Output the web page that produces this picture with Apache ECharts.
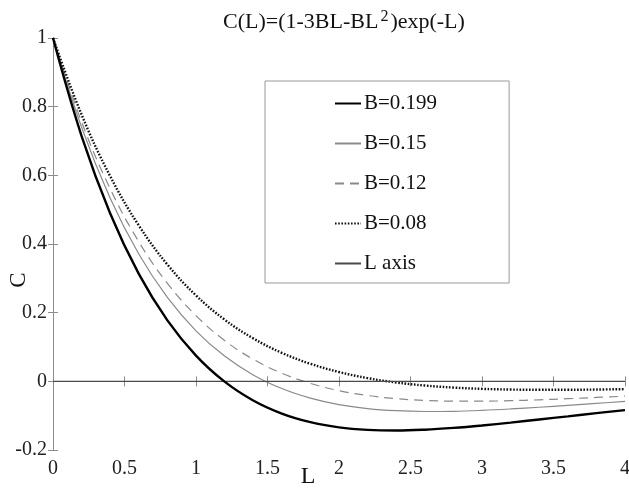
<!DOCTYPE html>
<html>
<head>
<meta charset="utf-8">
<script src="https://cdn.jsdelivr.net/npm/echarts@6/dist/echarts.min.js"></script>
<style>
  html, body { margin: 0; padding: 0; background: #fff; }
  #chart { width: 629px; height: 488px; }
</style>
</head>
<body>
<div id="chart"></div>
<script>
// C(L) every 0.2 in L
const lValues = [0, 0.2, 0.4, 0.6, 0.8, 1.0, 1.2, 1.4, 1.6, 1.8, 2.0, 2.2, 2.4, 2.6, 2.8, 3.0, 3.2, 3.4, 3.6, 3.8, 4.0];
const c199 = [1, 0.7145, 0.4889, 0.3129, 0.1775, 0.0750, -0.0009, -0.0557, -0.0938, -0.1189, -0.1340, -0.1414, -0.1433, -0.1409, -0.1357, -0.1286, -0.1202, -0.1111, -0.1019, -0.0927, -0.0838];
const c15 = [1, 0.7401, 0.5336, 0.3710, 0.2444, 0.1472, 0.0735, 0.0187, -0.0210, -0.0489, -0.0677, -0.0793, -0.0856, -0.0879, -0.0873, -0.0846, -0.0805, -0.0755, -0.0700, -0.0643, -0.0586];
const c12 = [1, 0.7559, 0.5609, 0.4066, 0.2854, 0.1913, 0.1190, 0.0643, 0.0236, -0.0061, -0.0271, -0.0413, -0.0504, -0.0555, -0.0577, -0.0578, -0.0563, -0.0538, -0.0506, -0.0470, -0.0432];
const c08 = [1, 0.7768, 0.5974, 0.4540, 0.3401, 0.2502, 0.1797, 0.1251, 0.0830, 0.0510, 0.0271, 0.0094, -0.0033, -0.0122, -0.0182, -0.0219, -0.0239, -0.0247, -0.0246, -0.0239, -0.0227];
const lAxisX = [0, 4];
const lAxisY = [0, 0];

const pairs = (xs, ys) => xs.map((x, i) => [x, ys[i]]);

const serif = "Liberation Serif";
const boxColor = "#8c8c8c";

const chart = echarts.init(document.getElementById("chart"));

const option = {
  animation: false,
  title: {
    text: "C(L)=(1-3BL-BL{sup|2})exp(-L)",
    left: 218,
    top: 4,
    textStyle: {
      fontFamily: serif,
      fontSize: 22,
      fontWeight: "normal",
      color: "#111",
      rich: {
        sup: { fontFamily: serif, fontSize: 16, verticalAlign: "top", padding: [0, 2, 10, 2], color: "#111" },
      },
    },
  },
  grid: {
    left: 53,
    right: 4,
    top: 38,
    bottom: 38,
    containLabel: false,
    outerBoundsMode: "none",
  },
  legend: {
    orient: "vertical",
    left: 265,
    top: 81,
    padding: [12, 72, 9, 69],
    itemGap: 19,
    itemWidth: 26,
    itemHeight: 14,
    borderColor: "#999",
    borderWidth: 1,
    backgroundColor: "#fff",
    itemStyle: { opacity: 0 },
    textStyle: { fontFamily: serif, fontSize: 21, color: "#111", padding: [0, 0, 0, -2] },
    data: ["B=0.199", "B=0.15", "B=0.12", "B=0.08", "L axis"],
  },
  xAxis: [
    {
      type: "value",
      min: 0,
      max: 4,
      interval: 0.5,
      name: "L",
      nameLocation: "middle",
      nameGap: 15,
      nameMoveOverlap: false,
      nameTextStyle: { fontFamily: serif, fontSize: 24, color: "#111", verticalAlign: "top", padding: [0, 62, 0, 0] },
      axisLine: { show: true, lineStyle: { color: boxColor, width: 1 } },
      axisTick: { show: true, inside: true, length: 5, lineStyle: { color: boxColor } },
      axisLabel: { fontFamily: serif, fontSize: 20, color: "#222", margin: 9 },
      splitLine: { show: false },
    },
    {
      type: "value",
      position: "top",
      min: 0,
      max: 4,
      interval: 0.5,
      axisLine: { show: true, lineStyle: { color: boxColor, width: 1 } },
      axisTick: { show: true, inside: true, length: 5, lineStyle: { color: boxColor } },
      axisLabel: { show: false },
      splitLine: { show: false },
    },
  ],
  yAxis: [
    {
      type: "value",
      min: -0.2,
      max: 1,
      interval: 0.2,
      name: "C",
      nameLocation: "middle",
      nameGap: 23,
      nameMoveOverlap: false,
      nameTextStyle: { fontFamily: serif, fontSize: 23, color: "#111", padding: [0, 72, 0, 0] },
      axisLine: { show: true, lineStyle: { color: boxColor, width: 1 } },
      axisTick: { show: true, inside: true, length: 5, lineStyle: { color: boxColor } },
      axisLabel: { fontFamily: serif, fontSize: 20, color: "#222", margin: 6 },
      splitLine: { show: false },
    },
    {
      type: "value",
      position: "right",
      min: -0.2,
      max: 1,
      interval: 0.2,
      axisLine: { show: true, lineStyle: { color: boxColor, width: 1 } },
      axisTick: { show: true, inside: true, length: 5, lineStyle: { color: boxColor } },
      axisLabel: { show: false },
      splitLine: { show: false },
    },
  ],
  series: [
    {
      name: "B=0.199",
      type: "line",
      data: pairs(lValues, c199),
      smooth: 0.4,
      symbol: "none",
      color: "#000",
      lineStyle: { color: "#000", width: 2.4 },
      z: 5,
    },
    {
      name: "B=0.15",
      type: "line",
      data: pairs(lValues, c15),
      smooth: 0.4,
      symbol: "none",
      color: "#8a8a8a",
      lineStyle: { color: "#8a8a8a", width: 1.2 },
    },
    {
      name: "B=0.12",
      type: "line",
      data: pairs(lValues, c12),
      smooth: 0.4,
      symbol: "none",
      color: "#8a8a8a",
      lineStyle: { color: "#8a8a8a", width: 1.2, type: [9, 6] },
    },
    {
      name: "B=0.08",
      type: "line",
      data: pairs(lValues, c08),
      smooth: 0.4,
      symbol: "none",
      color: "#111",
      lineStyle: { color: "#111", width: 2.4, type: [1.6, 1.6] },
    },
    {
      name: "L axis",
      type: "line",
      data: pairs(lAxisX, lAxisY),
      symbol: "none",
      color: "#4a4a4a",
      lineStyle: { color: "#4a4a4a", width: 1.4 },
    },
  ],
};

chart.setOption(option);
window.addEventListener("resize", () => chart.resize());
</script>
</body>
</html>
